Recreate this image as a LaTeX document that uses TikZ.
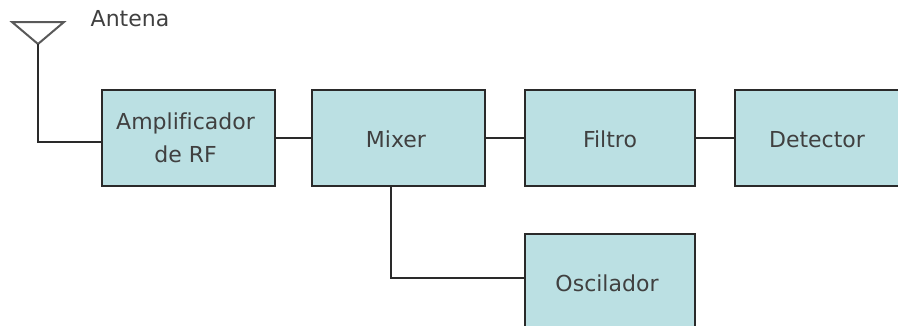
\documentclass[tikz,border=0pt]{standalone}
\usepackage{fontspec}
\setmainfont{DejaVu Sans}[Ligatures=NoCommon]
\definecolor{boxfill}{HTML}{BBE0E3}
\definecolor{lineink}{HTML}{2A2A2A}
\tikzset{
  blockbox/.style={draw=lineink,line width=2pt,fill=boxfill,minimum width=173pt,minimum height=96pt,inner sep=0pt,align=center,anchor=center},
  blocktext/.style={font=\fontsize{22}{33}\selectfont,text=black!75,align=center,inner sep=0pt},
  wire/.style={draw=lineink,line width=2pt},
  antennaline/.style={draw=gray!70!black,line width=2pt,line join=miter}
}
\begin{document}
\begin{tikzpicture}[x=1pt,y=-1pt]
\useasboundingbox (0,0) rectangle (898,325);
\clip (0,0) rectangle (898,325);
\coordinate (antL) at (12,22);
\coordinate (antR) at (64,22);
\coordinate (antB) at (38,44);
\coordinate (corner) at (38,142);
\coordinate (oscCorner) at (391,278);
\node[blockbox] (amp) at (188.5,138) {};
\node[blockbox] (mix) at (398.5,138) {};
\node[blockbox,minimum width=170pt] (fil) at (610,138) {};
\node[blockbox] (det) at (821.5,138) {};
\node[blockbox,minimum width=170pt] (osc) at (610,282) {};
\node[blocktext] (ampT) at (185.5,138) {Amplificador\\de RF};
\node[blocktext] (mixT) at (396,139) {Mixer};
\node[blocktext] (filT) at (610,139) {Filtro};
\node[blocktext] (detT) at (817,140) {Detector};
\node[blocktext] (oscT) at (607,283) {Oscilador};
\node[blocktext] (lab) at (130,19) {Antena};
\draw[antennaline] (antL) -- (antR) -- (antB) -- cycle;
\draw[wire] (antB) -- (corner) -- (corner -| amp.west);
\draw[wire] (amp.east |- 0,138) -- (mix.west |- 0,138);
\draw[wire] (mix.east) -- (fil.west);
\draw[wire] (fil.east) -- (det.west);
\draw[wire] (mix.south -| oscCorner) -- (oscCorner) -- (osc.west |- oscCorner);
\end{tikzpicture}
\end{document}
